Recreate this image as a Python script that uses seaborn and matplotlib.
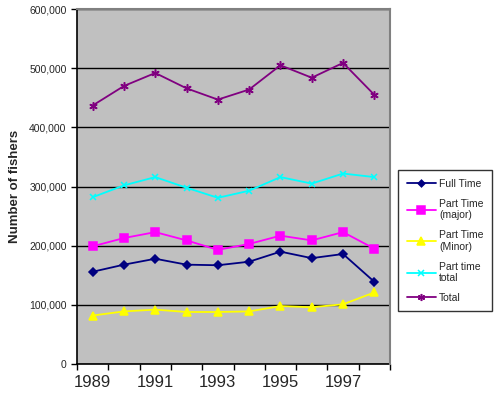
import numpy as np
import pandas as pd
import seaborn as sns
import matplotlib
matplotlib.use('Agg')
import matplotlib.pyplot as plt
from matplotlib.ticker import FuncFormatter

# data
years = [1989, 1990, 1991, 1992, 1993, 1994, 1995, 1996, 1997, 1998]
full_time = [156000, 168000, 178000, 168000, 167000, 173000, 190000, 179000, 186000, 139000]
part_major = [199000, 213000, 223000, 209000, 193000, 203000, 217000, 209000, 223000, 195000]
part_minor = [82000, 89000, 92000, 88000, 88000, 89000, 98000, 96000, 101000, 121000]
part_total = [282000, 302000, 316000, 298000, 281000, 293000, 316000, 305000, 322000, 316000]
total = [437000, 470000, 492000, 466000, 447000, 464000, 505000, 484000, 509000, 455000]

series = [
    ('Full Time', full_time, '#000080', 'D', 4),
    ('Part Time\n(major)', part_major, '#FF00FF', 's', 6),
    ('Part Time\n(Minor)', part_minor, '#FFFF00', '^', 6),
    ('Part time\ntotal', part_total, '#00FFFF', 'x', 5),
    ('Total', total, '#800080', (6, 2, 0), 6),
]

sns.set_style('white')
plt.rcParams['font.family'] = ['Liberation Sans', 'DejaVu Sans']

fig = plt.figure(figsize=(5, 3.94), dpi=100)
ax = fig.add_axes([0.154, 0.076, 0.626, 0.901])
ax.set_facecolor('#C0C0C0')

pos = np.arange(len(years))
for name, vals, col, mk, ms in series:
    df = pd.DataFrame({'pos': pos, 'val': vals})
    sns.lineplot(data=df, x='pos', y='val', ax=ax, color=col, marker=mk,
                 markersize=ms, markeredgecolor=col, markeredgewidth=1.1,
                 linewidth=1.3, label=name)

ax.set_xlim(-0.5, len(years) - 0.5)
ax.set_ylim(0, 600000)
ax.set_yticks(np.arange(0, 600001, 100000))
ax.yaxis.set_major_formatter(FuncFormatter(lambda v, p: f'{int(v):,}'))
ax.grid(axis='y', color='black', linewidth=1)
ax.set_axisbelow(True)

ax.set_xticks(np.arange(-0.5, len(years), 1))
ax.set_xticklabels([])
ax.set_xticks(pos[::2], minor=True)
ax.set_xticklabels([str(y) for y in years[::2]], minor=True, fontsize=12)
ax.tick_params(axis='x', which='major', direction='out', length=4, width=1, color='black', bottom=True)
ax.tick_params(axis='x', which='minor', length=0, pad=8)
ax.tick_params(axis='y', direction='out', length=4, width=1, color='black', left=True, labelsize=7.5)

for s in ['top', 'right']:
    ax.spines[s].set_color('#808080')
    ax.spines[s].set_linewidth(1.5)
    ax.spines[s].set_zorder(3)
for s in ['left', 'bottom']:
    ax.spines[s].set_color('black')
    ax.spines[s].set_linewidth(1.2)

ax.set_xlabel('')
ax.set_ylabel('Number of fishers', fontsize=9.5, fontweight='bold', labelpad=6)

leg = fig.legend(*ax.get_legend_handles_labels(), loc='upper right',
                 bbox_to_anchor=(0.994, 0.581), fontsize=7.5, frameon=True,
                 fancybox=False, edgecolor='black', handlelength=2.8,
                 labelspacing=0.95, borderpad=0.8, handletextpad=0.3,
                 markerscale=0.85)
leg.get_frame().set_linewidth(1)
ax.get_legend().remove()

fig.savefig('out.png', dpi=100)
